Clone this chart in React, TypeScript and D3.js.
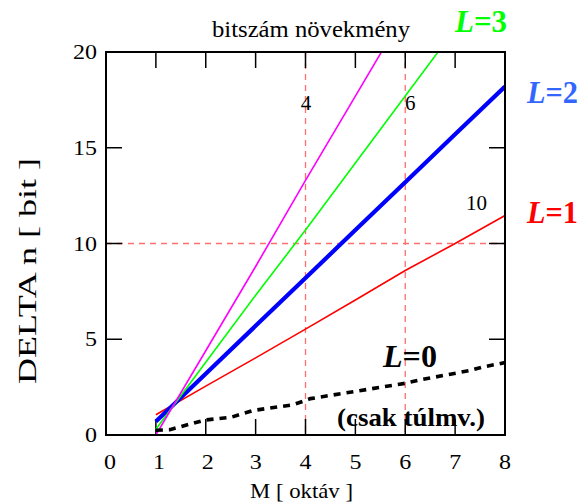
import React from "react";
import * as d3 from "d3";

const W = 585;
const H = 504;

const xTicks = [0, 1, 2, 3, 4, 5, 6, 7, 8];
const yTicks = [0, 5, 10, 15, 20];
const M = [1, 2, 3, 4, 5, 6, 7, 8];

const magentaVals = [0.0, 4.4, 8.8, 13.3, 17.7, 22.1, 26.5, 30.9];
const greenVals = [0.3, 3.8, 7.3, 10.7, 14.2, 17.7, 21.2, 24.7];
const blueVals = [0.7, 3.2, 5.7, 8.2, 10.7, 13.2, 15.7, 18.2];
const redVals = [1.06, 2.55, 4.03, 5.53, 7.05, 8.59, 10.0, 11.46];

const l0M = [1, 1.28, 1.98, 2.5, 2.95, 3.75, 4.1, 6.0, 6.3, 7.3, 7.55, 8];
const l0Vals = [0.25, 0.28, 0.78, 0.92, 1.28, 1.58, 1.9, 2.7, 2.88, 3.37, 3.55, 3.78];

const refX = [4, 6];
const refY = [10];

const serif = "'Liberation Serif', 'Times New Roman', serif";

export default function App() {
  const x = d3.scaleLinear().domain([0, 8]).range([106, 505]);
  const y = d3.scaleLinear().domain([0, 20]).range([435, 52]);
  const line = d3
    .line<[number, number]>()
    .x((d) => x(d[0]))
    .y((d) => y(d[1]));

  const series = [
    { vals: redVals, color: "#ff0000", w: 1.6 },
    { vals: blueVals, color: "#0000ff", w: 4.2 },
    { vals: greenVals, color: "#00ff00", w: 1.6 },
    { vals: magentaVals, color: "#ff00ff", w: 1.6 },
  ];

  const [x0, x1] = x.range();
  const [yb, yt] = y.range();
  const tickLen = 16;

  return (
    <svg width={W} height={H} style={{ position: "absolute", left: 0, top: 0 }}>
      <rect width={W} height={H} fill="#fff" />
      <defs>
        <clipPath id="plot">
          <rect x={x0} y={yt} width={x1 - x0} height={yb - yt} />
        </clipPath>
      </defs>

      {refX.map((v) => (
        <line key={"rx" + v} x1={x(v)} x2={x(v)} y1={yt} y2={yb} stroke="#ff6f6f" strokeWidth={1.3} strokeDasharray="6,5" />
      ))}
      {refY.map((v) => (
        <line key={"ry" + v} x1={x0} x2={x1} y1={y(v)} y2={y(v)} stroke="#ff6f6f" strokeWidth={1.3} strokeDasharray="6,5" />
      ))}

      {xTicks.map((t) => (
        <g key={"xt" + t}>
          <line x1={x(t)} x2={x(t)} y1={yb} y2={yb - tickLen} stroke="#000" strokeWidth={1.5} />
          <line x1={x(t)} x2={x(t)} y1={yt} y2={yt + tickLen} stroke="#000" strokeWidth={1.5} />
          <text
            x={x(t) + (t < 3 ? 4 - t : 0) - 6}
            y={469}
            fontFamily={serif}
            fontSize={21}
            textLength={12}
            lengthAdjust="spacingAndGlyphs"
          >
            {t}
          </text>
        </g>
      ))}
      {yTicks.map((t) => {
        const w = String(t).length * 12;
        return (
          <g key={"yt" + t}>
            <line x1={x0} x2={x0 + tickLen} y1={y(t)} y2={y(t)} stroke="#000" strokeWidth={1.5} />
            <line x1={x1} x2={x1 - tickLen} y1={y(t)} y2={y(t)} stroke="#000" strokeWidth={1.5} />
            <text
              x={97 - w}
              y={y(t) + 7}
              fontFamily={serif}
              fontSize={21}
              textLength={w}
              lengthAdjust="spacingAndGlyphs"
            >
              {t}
            </text>
          </g>
        );
      })}

      <g clipPath="url(#plot)">
        {series.map((s, i) => (
          <path
            key={i}
            d={line(M.map((m, j) => [m, s.vals[j]] as [number, number])) || ""}
            fill="none"
            stroke={s.color}
            strokeWidth={s.w}
          />
        ))}
        <path
          d={line(l0M.map((m, j) => [m, l0Vals[j]] as [number, number])) || ""}
          fill="none"
          stroke="#000"
          strokeWidth={3.6}
          strokeDasharray="7,6"
        />
      </g>

      <rect x={x0} y={yt} width={x1 - x0} height={yb - yt} fill="none" stroke="#000" strokeWidth={2} />

      <text x={306} y={110} textAnchor="middle" fontFamily={serif} fontSize={21}>4</text>
      <text x={405} y={110} fontFamily={serif} fontSize={21}>6</text>
      <text x={466} y={210} fontFamily={serif} fontSize={21}>10</text>

      <text x={212} y={37} fontFamily={serif} fontSize={24} textLength={198} lengthAdjust="spacingAndGlyphs">
        bitszám növekmény
      </text>

      <text x={455} y={32} fontFamily={serif} fontSize={31} fontWeight="bold" fill="#00ff00" textLength={52} lengthAdjust="spacingAndGlyphs">
        <tspan fontStyle="italic">L</tspan>=3
      </text>
      <text x={527} y={103} fontFamily={serif} fontSize={31} fontWeight="bold" fill="#3366ff" textLength={51} lengthAdjust="spacingAndGlyphs">
        <tspan fontStyle="italic">L</tspan>=2
      </text>
      <text x={527} y={223} fontFamily={serif} fontSize={31} fontWeight="bold" fill="#ff0000" textLength={51} lengthAdjust="spacingAndGlyphs">
        <tspan fontStyle="italic">L</tspan>=1
      </text>
      <text x={383} y={367} fontFamily={serif} fontSize={31} fontWeight="bold" fill="#000" textLength={54} lengthAdjust="spacingAndGlyphs">
        <tspan fontStyle="italic">L</tspan>=0
      </text>
      <text x={337} y={426} fontFamily={serif} fontSize={25} fontWeight="bold" fill="#000" textLength={148} lengthAdjust="spacingAndGlyphs">
        (csak túlmv.)
      </text>

      <text x={250} y={498} fontFamily={serif} fontSize={21} textLength={103} lengthAdjust="spacingAndGlyphs">
        M [ oktáv ]
      </text>
      <text
        transform={`translate(36,384) rotate(-90)`}
        fontFamily={serif}
        fontSize={26}
        textLength={226}
        lengthAdjust="spacingAndGlyphs"
      >
        DELTA n [ bit ]
      </text>
    </svg>
  );
}
